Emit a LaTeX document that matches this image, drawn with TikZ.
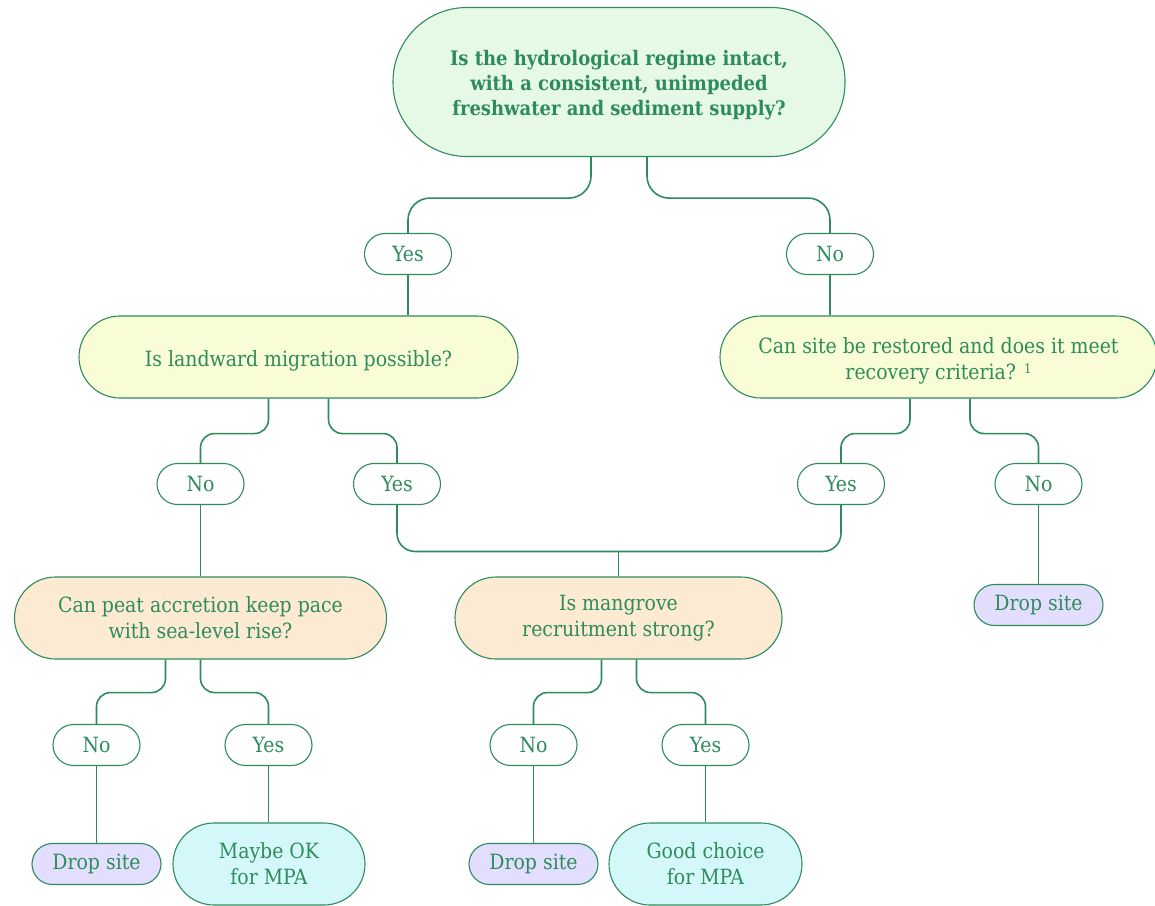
\documentclass[tikz,border=0pt]{standalone}
\usepackage{fontspec}
\setmainfont{DejaVu Serif Condensed}
\usetikzlibrary{calc}
\definecolor{ink}{HTML}{2E8B5C}
\definecolor{topfill}{HTML}{E6F9E6}
\definecolor{yelfill}{HTML}{F9FDD6}
\definecolor{orgfill}{HTML}{FDEAD3}
\definecolor{lavfill}{HTML}{E3DEFD}
\definecolor{cyanfill}{HTML}{D4F8FA}
\begin{document}
\begin{tikzpicture}[x=1pt,y=-1pt,
  box/.style={draw=ink, line width=1.1pt, text=ink, align=center, inner sep=0pt,
    font=\fontsize{21}{26}\selectfont},
  answer/.style={box, fill=white, minimum width=87pt, minimum height=41pt, rounded corners=20.5pt},
  leaf/.style={box, minimum width=129pt, minimum height=41pt, rounded corners=20.5pt, fill=lavfill},
  question/.style={box, minimum height=82pt, rounded corners=41pt},
  qtext/.style={text=ink, align=center, inner sep=0pt, font=\fontsize{21}{26}\selectfont},
  conn/.style={draw=ink, line width=1.6pt, rounded corners=14pt}]
\useasboundingbox (0,0) rectangle (1155,905);

% top question
\node[box, fill=topfill, minimum width=452pt, minimum height=149pt, rounded corners=74pt] (q0) at (619,82) {};
\node[qtext, font=\fontsize{20}{25}\selectfont\bfseries] (q0t) at ([yshift=-3pt]q0.center)
  {Is the hydrological regime intact,\\with a consistent, unimpeded\\freshwater and sediment supply?};

% first answers
\node[answer] (yes1) at (408,254) {Yes};
\node[answer] (no1) at (830,254) {No};

% second level questions
\node[question, fill=yelfill, minimum width=439pt] (q1) at (298.5,357) {};
\node[qtext] (q1t) at ([yshift=-4pt]q1.center) {Is landward migration possible?};
\node[question, fill=yelfill, minimum width=437pt] (q2) at (938.5,357) {};
\node[qtext] (q2t) at ([yshift=-4pt]q2.center)
  {Can site be restored and does it meet\\recovery criteria? \raisebox{0.6ex}{\fontsize{13}{13}\selectfont 1}};

\node[answer] (no2) at (200.5,484) {No};
\node[answer] (yes2) at (397,484) {Yes};
\node[answer] (yes3) at (841,484) {Yes};
\node[answer] (no3) at (1038.5,484) {No};

% third level questions
\node[question, fill=orgfill, minimum width=372pt] (q3) at (200.5,618) {};
\node[qtext] (q3t) at (q3.center) {Can peat accretion keep pace\\with sea-level rise?};
\node[question, fill=orgfill, minimum width=327pt] (q4) at (618.5,618) {};
\node[qtext] (q4t) at (q4.center) {Is mangrove\\recruitment strong?};
\node[leaf] (drop3) at (1038.5,605) {Drop site};

\node[answer] (no4) at (96.5,745) {No};
\node[answer] (yes4) at (268.5,745) {Yes};
\node[answer] (no5) at (533.5,745) {No};
\node[answer] (yes5) at (705.5,745) {Yes};

% outcomes
\node[leaf] (drop1) at (96.5,864) {Drop site};
\node[question, fill=cyanfill, minimum width=192pt] (ok1) at (269,864) {};
\node[qtext] (ok1t) at (ok1.center) {Maybe OK\\for MPA};
\node[leaf] (drop2) at (533.5,864) {Drop site};
\node[question, fill=cyanfill, minimum width=193pt] (ok2) at (705.5,864) {};
\node[qtext] (ok2t) at (ok2.center) {Good choice\\for MPA};

% connectors
\draw[conn, rounded corners=22pt] ([xshift=-28pt]q0.south) -- ++(0,41) -| (yes1.north);
\draw[conn, rounded corners=22pt] ([xshift=28pt]q0.south) -- ++(0,41) -| (no1.north);
\draw[conn] (yes1.south) -- (yes1.south |- q1.north);
\draw[conn] (no1.south) -- (no1.south |- q2.north);

\draw[conn] ([xshift=-30pt]q1.south) -- ++(0,35) -| (no2.north);
\draw[conn] ([xshift=30pt]q1.south) -- ++(0,35) -| (yes2.north);
\draw[conn] ([xshift=-28.5pt]q2.south) -- ++(0,35) -| (yes3.north);
\draw[conn] ([xshift=31.5pt]q2.south) -- ++(0,35) -| (no3.north);

\draw[conn] (no2.south) -- (no2.south |- q3.north);
\path (q4.north) ++(0,-25) coordinate (j);
\draw[conn, rounded corners=18pt] (yes2.south) |- (j) -| (yes3.south);
\draw[conn] (j) -- (q4.north);
\draw[conn] (no3.south) -- (no3.south |- drop3.north);

\draw[conn] ([xshift=-35pt]q3.south) -- ++(0,33) -| (no4.north);
\draw[conn] (q3.south) -- ++(0,33) -| (yes4.north);
\draw[conn] ([xshift=-17pt]q4.south) -- ++(0,33) -| (no5.north);
\draw[conn] ([xshift=18pt]q4.south) -- ++(0,33) -| (yes5.north);

\draw[conn] (no4.south) -- (no4.south |- drop1.north);
\draw[conn] (yes4.south) -- (yes4.south |- ok1.north);
\draw[conn] (no5.south) -- (no5.south |- drop2.north);
\draw[conn] (yes5.south) -- (yes5.south |- ok2.north);
\end{tikzpicture}
\end{document}
